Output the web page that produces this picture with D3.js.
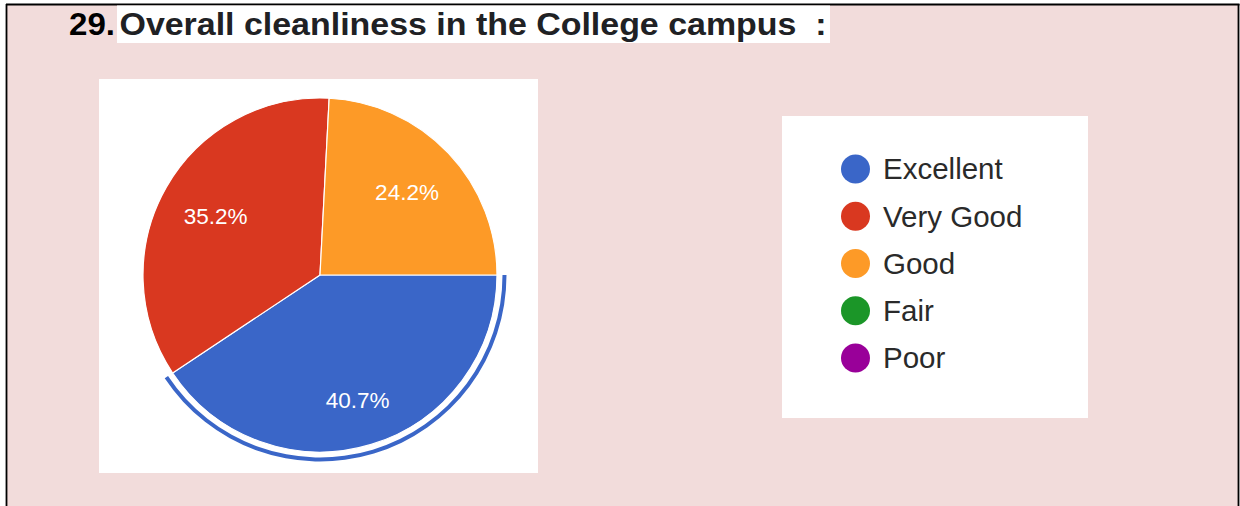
<!DOCTYPE html>
<html>
<head>
<meta charset="utf-8">
<script src="https://cdn.jsdelivr.net/npm/d3@7"></script>
<style>
  html, body { margin: 0; padding: 0; background: #ffffff; }
  svg { display: block; }
</style>
</head>
<body>
<svg id="chart" width="1240" height="506"></svg>
<script>
// ---- data ----
const questionNumber = "29.";
const questionTitle = "Overall cleanliness in the College campus  :";
const categories = ["Excellent", "Very Good", "Good", "Fair", "Poor"];
const values = [40.7, 35.2, 24.2, 0, 0];
const colors = ["#3a66c8", "#d93820", "#fd9a27", "#1b9628", "#990099"];
const selectedCategory = "Excellent";

const svg = d3.select("#chart");

// page background with border
svg.append("rect").attr("x", 6).attr("y", 4).attr("width", 1233).attr("height", 510)
  .attr("fill", "#f2dcdb");
svg.append("line").attr("x1", 6.5).attr("x2", 6.5).attr("y1", 4).attr("y2", 506)
  .attr("stroke", "#000").attr("stroke-width", 1.8);
svg.append("line").attr("x1", 1238.5).attr("x2", 1238.5).attr("y1", 4).attr("y2", 506)
  .attr("stroke", "#000").attr("stroke-width", 1.8);
svg.append("line").attr("x1", 6).attr("x2", 1239.5).attr("y1", 4.5).attr("y2", 4.5)
  .attr("stroke", "#000").attr("stroke-width", 1.8);

// title
svg.append("rect").attr("x", 117).attr("y", 5.5).attr("width", 713).attr("height", 37.5)
  .attr("fill", "#ffffff");
svg.append("text").attr("x", 69).attr("y", 35)
  .attr("font-family", "'Liberation Sans', Arial, sans-serif")
  .attr("font-weight", "bold").attr("font-size", 32).attr("fill", "#000")
  .attr("textLength", 46).attr("lengthAdjust", "spacingAndGlyphs")
  .text(questionNumber);
svg.append("text").attr("x", 119.5).attr("y", 35)
  .attr("font-family", "'Liberation Sans', Arial, sans-serif")
  .attr("font-weight", "bold").attr("font-size", 32).attr("fill", "#202124")
  .attr("xml:space", "preserve").style("white-space", "pre")
  .attr("textLength", 707).attr("lengthAdjust", "spacingAndGlyphs")
  .text(questionTitle);

// pie panel
svg.append("rect").attr("x", 99).attr("y", 79).attr("width", 439).attr("height", 394)
  .attr("fill", "#ffffff");

const cx = 320, cy = 275, R = 177;
const data = categories.map((c, i) => ({ category: c, value: values[i], color: colors[i] }));
const pie = d3.pie().value(d => d.value).sort(null)
  .startAngle(Math.PI / 2).endAngle(Math.PI / 2 + 2 * Math.PI);
const arcs = pie(data);
const arc = d3.arc().innerRadius(0).outerRadius(R);
const g = svg.append("g").attr("transform", `translate(${cx},${cy})`);

g.selectAll("path.slice").data(arcs.filter(d => d.value > 0)).enter().append("path")
  .attr("class", "slice")
  .attr("d", arc)
  .attr("fill", d => d.data.color)
  .attr("stroke", "#ffffff").attr("stroke-width", 1.2).attr("stroke-linejoin", "round");

// selection ring
const ringArc = d3.arc().innerRadius(182.5).outerRadius(186.5);
g.selectAll("path.ring").data(arcs.filter(d => d.data.category === selectedCategory)).enter()
  .append("path").attr("class", "ring")
  .attr("d", ringArc).attr("fill", d => d.data.color);

// slice labels
const total = d3.sum(values);
const fmt = v => (v / total * 100).toFixed(1) + "%";
g.selectAll("text.lbl").data(arcs.filter(d => d.value > 0)).enter().append("text")
  .attr("class", "lbl")
  .attr("transform", d => {
    const lr = (d.endAngle - d.startAngle) > 2.4 ? 130 : 120;
    const c = d3.arc().innerRadius(lr).outerRadius(lr).centroid(d);
    return `translate(${c[0]},${c[1]})`;
  })
  .attr("text-anchor", "middle").attr("dy", "0.36em")
  .attr("font-family", "'Liberation Sans', Arial, sans-serif")
  .attr("font-size", 22.5).attr("fill", "#ffffff")
  .text(d => fmt(d.data.value));

// legend panel
svg.append("rect").attr("x", 782).attr("y", 116).attr("width", 306).attr("height", 302)
  .attr("fill", "#ffffff");
const ly = d3.scalePoint().domain(categories).range([169, 358]);
const lg = svg.append("g").selectAll("g").data(data).enter().append("g")
  .attr("transform", d => `translate(0,${ly(d.category)})`);
lg.append("circle").attr("cx", 855.5).attr("cy", 0).attr("r", 14.5).attr("fill", d => d.color);
lg.append("text").attr("x", 883).attr("y", 0).attr("dy", "0.35em")
  .attr("font-family", "'Liberation Sans', Arial, sans-serif")
  .attr("font-size", 29.5).attr("fill", "#2a2a2a")
  .text(d => d.category);
</script>
</body>
</html>
